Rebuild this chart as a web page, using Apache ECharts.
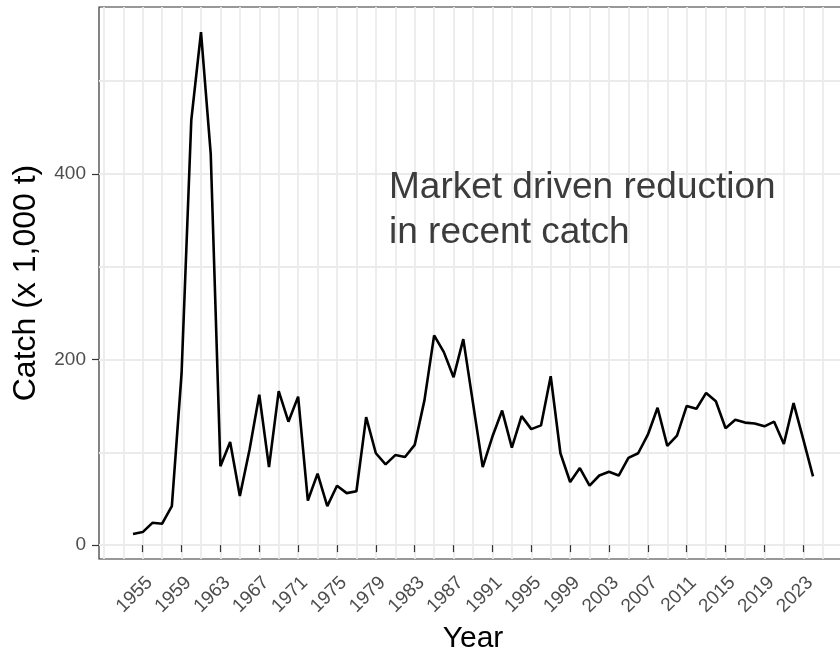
<!DOCTYPE html>
<html>
<head>
<meta charset="utf-8">
<script src="https://cdn.jsdelivr.net/npm/echarts@6.0.0/dist/echarts.min.js"></script>
<style>
html,body{margin:0;padding:0;background:#fff;}
#chart{width:840px;height:649px;}
</style>
</head>
<body>
<div id="chart"></div>
<script>
const years = [1954,1955,1956,1957,1958,1959,1960,1961,1962,1963,1964,1965,1966,1967,1968,1969,1970,1971,1972,1973,1974,1975,1976,1977,1978,1979,1980,1981,1982,1983,1984,1985,1986,1987,1988,1989,1990,1991,1992,1993,1994,1995,1996,1997,1998,1999,2000,2001,2002,2003,2004,2005,2006,2007,2008,2009,2010,2011,2012,2013,2014,2015,2016,2017,2018,2019,2020,2021,2022,2023,2024];
const catchValues = [12,14,24,23,42,185,458,553,422,85,111,53,103,162,84,166,133,160,48,77,42,64,56,58,138,99,87,97,95,108,156,226,208,181,222,153,84,117,145,105,139,125,129,182,99,68,83,64,75,79,75,94,99,119,148,107,118,150,147,164,155,126,135,132,131,128,133,109,153,114,74];
const xTickLabels = [1955,1959,1963,1967,1971,1975,1979,1983,1987,1991,1995,1999,2003,2007,2011,2015,2019,2023];
const xGridValues = [1951,1953,1955,1957,1959,1961,1963,1965,1967,1969,1971,1973,1975,1977,1979,1981,1983,1985,1987,1989,1991,1993,1995,1997,1999,2001,2003,2005,2007,2009,2011,2013,2015,2017,2019,2021,2023,2025,2027];
const yTickLabels = [0,200,400];
const yGridValues = [0,100,200,300,400,500];
const annotationText = 'Market driven reduction\nin recent catch';

const FONT = 'Liberation Sans, Arial, Helvetica, sans-serif';
const chart = echarts.init(document.getElementById('chart'), null, {renderer:'canvas'});
const XMIN = 1950.5, XMAX = 2027.5, YMIN = -15, YMAX = 580;

chart.setOption({
  animation: false,
  backgroundColor: '#ffffff',
  grid: {left: 99, top: 7, width: 748, bottom: 90, show: true, borderColor: '#333333', borderWidth: 1.2,
    backgroundColor: 'transparent', containLabel: false, outerBoundsMode: 'none'},
  xAxis: [
    {
      type: 'value', min: XMIN, max: XMAX, position: 'bottom',
      axisLine: {show: false},
      axisTick: {show: true, customValues: xTickLabels, length: 7, lineStyle: {color: '#333333', width: 1.2}},
      axisLabel: {customValues: xTickLabels, rotate: 45, align: 'right', verticalAlign: 'top', margin: 14,
        fontSize: 19, color: '#4D4D4D', fontFamily: FONT, formatter: v => String(v)},
      splitLine: {show: false},
      name: 'Year', nameLocation: 'middle', nameGap: 60,
      nameTextStyle: {fontSize: 30, color: '#000000', fontFamily: FONT}
    },
    {
      type: 'value', min: XMIN, max: XMAX, position: 'bottom',
      axisLine: {show: false},
      axisTick: {show: false, customValues: xGridValues},
      axisLabel: {show: false},
      splitLine: {show: true, lineStyle: {color: '#EBEBEB', width: 1.8}}
    }
  ],
  yAxis: [
    {
      type: 'value', min: YMIN, max: YMAX, position: 'left',
      axisLine: {show: false},
      axisTick: {show: true, customValues: yTickLabels, length: 7, lineStyle: {color: '#333333', width: 1.2}},
      axisLabel: {customValues: yTickLabels, margin: 13, fontSize: 19, color: '#4D4D4D', fontFamily: FONT, formatter: v => String(v)},
      splitLine: {show: false},
      name: 'Catch (x 1,000 t)', nameLocation: 'middle', nameGap: 57,
      nameTextStyle: {fontSize: 32, color: '#000000', fontFamily: FONT}
    },
    {
      type: 'value', min: YMIN, max: YMAX, position: 'left',
      axisLine: {show: false},
      axisTick: {show: false, customValues: yGridValues},
      axisLabel: {show: false},
      splitLine: {show: true, lineStyle: {color: '#EBEBEB', width: 1.8}}
    }
  ],
  graphic: [{
    type: 'text', left: 389, top: 165, z: 10,
    style: {text: annotationText, fontSize: 37, lineHeight: 45, fill: '#3C3C3C', fontFamily: FONT}
  }],
  series: [{
    type: 'line', xAxisIndex: 0, yAxisIndex: 0,
    data: years.map((y, i) => [y, catchValues[i]]),
    showSymbol: false, symbol: 'none',
    lineStyle: {color: '#000000', width: 2.6},
    z: 5
  }]
});
</script>
</body>
</html>
